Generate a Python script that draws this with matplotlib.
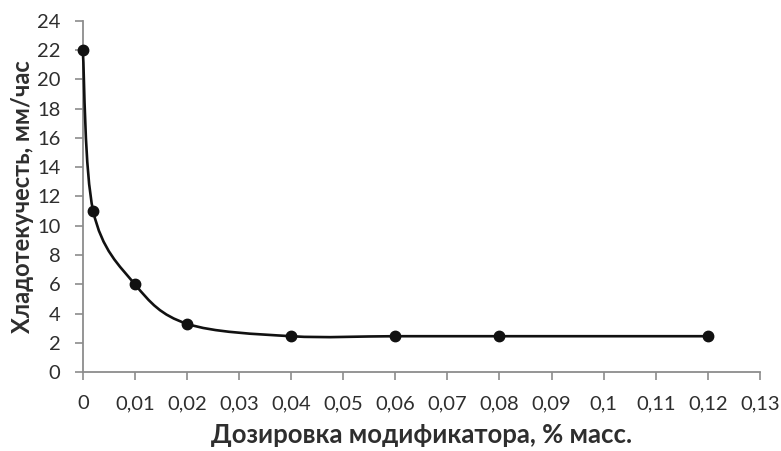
import numpy as np
import matplotlib
matplotlib.use("Agg")
import matplotlib.pyplot as plt
from matplotlib.path import Path
from matplotlib.patches import PathPatch
from matplotlib.ticker import FixedLocator, FuncFormatter

# Dosage of modifier (% mass) and cold flow (mm/h)
dosage = [0.0, 0.002, 0.01, 0.02, 0.04, 0.06, 0.08, 0.12]
cold_flow = [22.0, 11.0, 6.0, 3.3, 2.45, 2.45, 2.45, 2.45]

x_ticks = [i / 100 for i in range(14)]
y_ticks = list(range(0, 25, 2))

plt.rcParams['font.family'] = ['Lato', 'DejaVu Sans']
text_color = '#2e2e2e'
axis_color = '#8c8c8c'

fig = plt.figure(figsize=(7.81, 4.51), dpi=100)
ax = fig.add_axes([0.106, 0.175, 0.867, 0.779])
ax.set_xlim(0, 0.13)
ax.set_ylim(0, 24)

for side in ('top', 'right'):
    ax.spines[side].set_visible(False)
for side in ('left', 'bottom'):
    ax.spines[side].set_color(axis_color)
    ax.spines[side].set_linewidth(1.3)

ax.xaxis.set_major_locator(FixedLocator(x_ticks))
ax.yaxis.set_major_locator(FixedLocator(y_ticks))


def comma_fmt(v, _pos):
    s = f"{v:.2f}".rstrip('0').rstrip('.')
    return s.replace('.', ',')


ax.xaxis.set_major_formatter(FuncFormatter(comma_fmt))
ax.yaxis.set_major_formatter(FuncFormatter(lambda v, p: f"{int(v)}"))
ax.tick_params(axis='both', direction='out', length=6, width=1.2,
               color=axis_color, labelsize=14.5, labelcolor=text_color)
ax.tick_params(axis='x', pad=10.5)
ax.tick_params(axis='y', pad=10)

ax.set_xlabel('Дозировка модификатора, % масс.', fontsize=18.5,
              fontweight='bold', color=text_color, labelpad=8)
ax.set_ylabel('Хладотекучесть, мм/час', fontsize=17,
              fontweight='bold', color=text_color, labelpad=2.5)

# Smoothed line: cubic Bezier segments built in display space
pts = ax.transData.transform(np.column_stack([dosage, cold_flow]))
n = len(pts)
verts = [pts[0]]
codes = [Path.MOVETO]
for i in range(n - 1):
    p0 = pts[i - 1] if i > 0 else pts[i]
    p1 = pts[i]
    p2 = pts[i + 1]
    p3 = pts[i + 2] if i + 2 < n else pts[i + 1]
    c1 = p1 + (p2 - p0) / 6.0
    c2 = p2 - (p3 - p1) / 6.0
    verts += [c1, c2, p2]
    codes += [Path.CURVE4] * 3
curve = Path(ax.transData.inverted().transform(np.array(verts)), codes)
ax.add_patch(PathPatch(curve, facecolor='none', edgecolor='#111111',
                       linewidth=1.9, transform=ax.transData, zorder=3,
                       clip_on=False))

ax.plot(dosage, cold_flow, linestyle='none', marker='o', markersize=7.5,
        color='#111111', zorder=4, clip_on=False)

fig.savefig('out.png', dpi=100, facecolor='white')
